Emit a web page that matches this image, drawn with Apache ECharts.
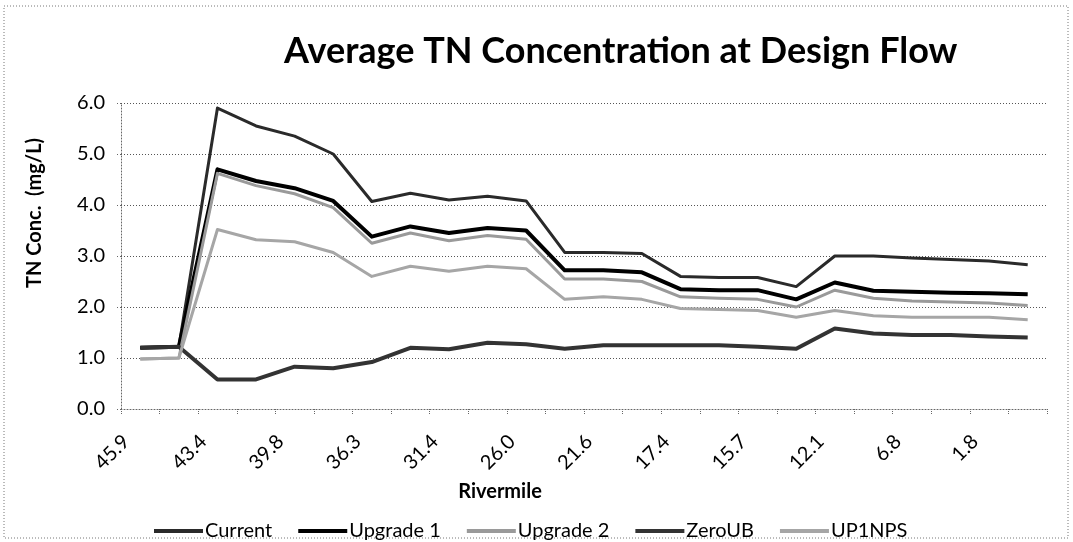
<!DOCTYPE html>
<html>
<head>
<meta charset="utf-8">
<script src="https://cdn.jsdelivr.net/npm/echarts@6/dist/echarts.min.js"></script>
<style>
  html, body { margin: 0; padding: 0; background: #fff; }
  #chart { width: 1073px; height: 542px; }
</style>
</head>
<body>
<div id="chart"></div>
<script>
// rivermile categories (only every second one is labelled in the picture)
var rivermile = ['45.9', '44.6', '43.4', '41.9', '39.8', '38.1', '36.3', '33.9', '31.4', '28.7', '26.0', '23.8',
                 '21.6', '19.5', '17.4', '16.5', '15.7', '13.9', '12.1', '9.4', '6.8', '4.3', '1.8', '0.5'];

var current  = [1.20, 1.22, 5.90, 5.55, 5.35, 5.00, 4.07, 4.23, 4.10, 4.17, 4.08, 3.07,
                3.07, 3.05, 2.60, 2.58, 2.58, 2.40, 3.00, 3.00, 2.96, 2.93, 2.90, 2.83];
var upgrade1 = [1.20, 1.22, 4.70, 4.47, 4.33, 4.08, 3.38, 3.58, 3.45, 3.55, 3.50, 2.72,
                2.72, 2.68, 2.35, 2.33, 2.33, 2.15, 2.48, 2.32, 2.30, 2.28, 2.27, 2.25];
var upgrade2 = [0.98, 1.00, 4.62, 4.38, 4.22, 3.95, 3.25, 3.45, 3.30, 3.40, 3.33, 2.55,
                2.55, 2.50, 2.20, 2.17, 2.15, 2.00, 2.33, 2.17, 2.12, 2.10, 2.08, 2.03];
var zeroUB   = [1.20, 1.22, 0.58, 0.58, 0.83, 0.80, 0.92, 1.20, 1.17, 1.30, 1.27, 1.18,
                1.25, 1.25, 1.25, 1.25, 1.22, 1.18, 1.58, 1.48, 1.45, 1.45, 1.42, 1.40];
var up1nps   = [0.98, 1.00, 3.52, 3.32, 3.28, 3.07, 2.60, 2.80, 2.70, 2.80, 2.75, 2.15,
                2.20, 2.15, 1.97, 1.95, 1.93, 1.80, 1.93, 1.83, 1.80, 1.80, 1.80, 1.75];

var font = 'Lato';

function line(name, data, color, width) {
    return {
        name: name,
        type: 'line',
        data: data,
        symbol: 'none',
        lineStyle: { color: color, width: width, join: 'round' },
        itemStyle: { color: color }
    };
}

var myChart = echarts.init(document.getElementById('chart'));
var option = {
    animation: false,
    backgroundColor: '#fff',
    title: {
        text: 'Average TN Concentration at Design Flow',
        left: 284,
        top: 33,
        padding: 0,
        textStyle: { fontFamily: font, fontSize: 36, fontWeight: 'bold', color: '#000' }
    },
    legend: {
        left: 149,
        top: 516,
        icon: 'rect',
        itemWidth: 49,
        itemHeight: 4,
        itemGap: 26,
        textStyle: { fontFamily: font, fontSize: 20, color: '#000', padding: [0, 0, 0, -3] },
        data: ['Current', 'Upgrade 1', 'Upgrade 2', 'ZeroUB', 'UP1NPS']
    },
    grid: { left: 121, right: 26, top: 103, bottom: 133, containLabel: false },
    xAxis: {
        type: 'category',
        data: rivermile,
        boundaryGap: true,
        name: 'Rivermile',
        nameLocation: 'middle',
        nameGap: 73,
        nameTextStyle: { fontFamily: font, fontSize: 20, fontWeight: 'bold', color: '#000', padding: [0, 168, 0, 0] },
        axisLine: { lineStyle: { color: '#666', type: [1, 2], width: 1 } },
        axisTick: { show: true, interval: 0, length: 5, lineStyle: { color: '#666', type: [1, 1] } },
        axisLabel: { interval: 1, rotate: 45, margin: 15, padding: [0, 20, 0, 0],
                     fontFamily: font, fontSize: 20, color: '#000' },
        splitLine: { show: false }
    },
    yAxis: {
        type: 'value',
        min: 0,
        max: 6,
        interval: 1,
        name: 'TN Conc.  (mg/L)',
        nameLocation: 'middle',
        nameGap: 76,
        nameTextStyle: { fontFamily: font, fontSize: 20, fontWeight: 'bold', color: '#000', padding: [0, 0, 0, 86] },
        axisLine: { show: true, lineStyle: { color: '#666', type: [1, 2], width: 1 } },
        axisTick: { show: true, length: 5, inside: false, lineStyle: { color: '#666', type: [1, 2] } },
        axisLabel: { margin: 16, fontFamily: font, fontSize: 20, color: '#000',
                     formatter: function (v) { return v.toFixed(1); } },
        splitLine: { show: true, lineStyle: { color: '#555', type: [1, 2], width: 1 } }
    },
    graphic: [{
        type: 'rect',
        shape: { x: 4, y: 6, width: 1064, height: 532 },
        style: { fill: 'none', stroke: '#777', lineWidth: 1, lineDash: [1, 2] },
        silent: true
    }],
    series: [
        line('Current', current, '#2a2a2a', 3),
        line('Upgrade 1', upgrade1, '#000', 4),
        line('Upgrade 2', upgrade2, '#9a9a9a', 3),
        line('ZeroUB', zeroUB, '#333', 4),
        line('UP1NPS', up1nps, '#a6a6a6', 3)
    ]
};
myChart.setOption(option);
</script>
</body>
</html>
